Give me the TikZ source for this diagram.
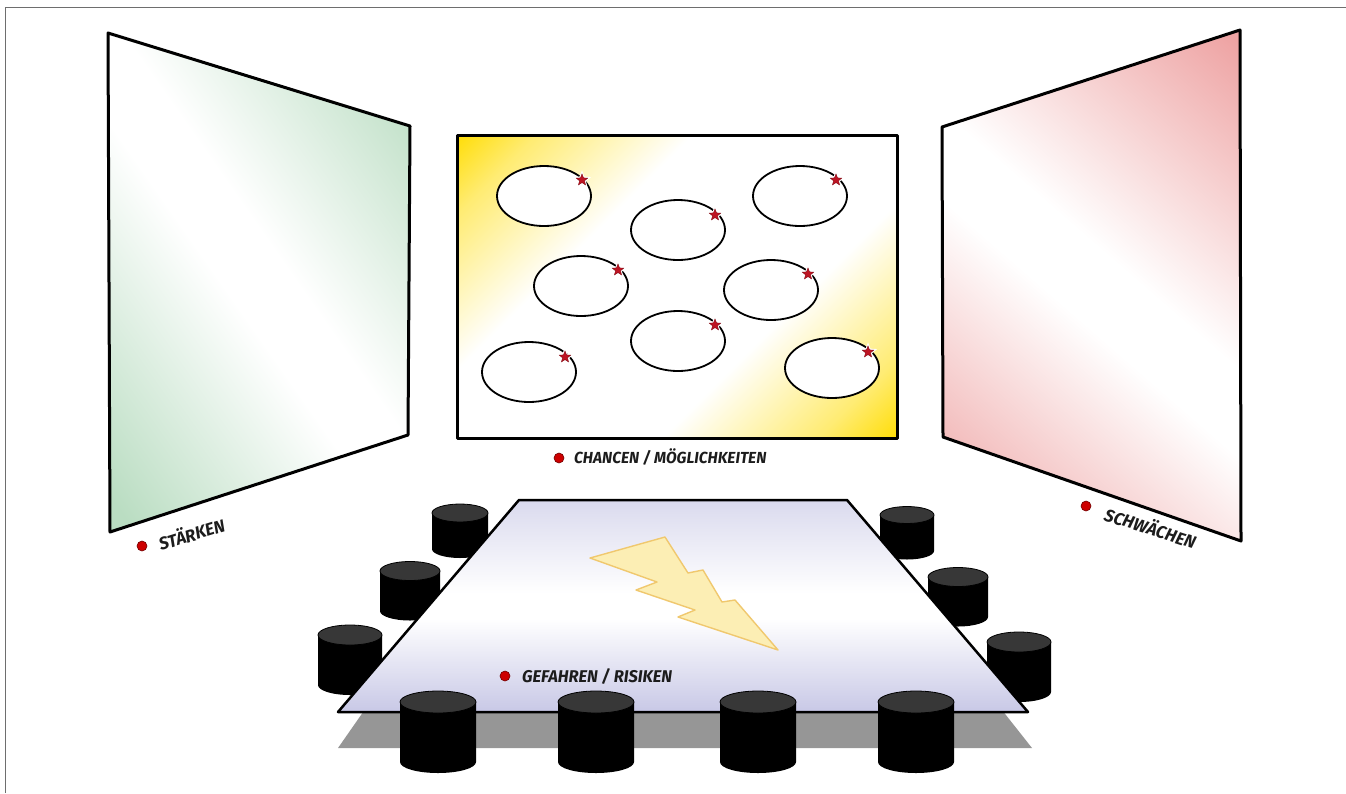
\documentclass[tikz,border=0pt]{standalone}
\usepackage{fontspec}
\newfontfamily\labfont[FakeStretch=0.97]{Fira Sans}
\usetikzlibrary{shapes.geometric}

\definecolor{panelgreen}{RGB}{186,221,194}
\definecolor{panelpink}{RGB}{238,163,163}
\definecolor{boardyellow}{RGB}{255,220,0}
\definecolor{tabletop}{RGB}{218,218,238}
\definecolor{tablebot}{RGB}{200,200,230}
\definecolor{shadowgray}{RGB}{150,150,150}
\definecolor{stooltop}{RGB}{55,55,55}
\definecolor{boltfill}{RGB}{252,238,180}
\definecolor{boltline}{RGB}{240,200,110}
\definecolor{starred}{RGB}{190,20,35}
\definecolor{dotred}{RGB}{205,0,0}
\definecolor{labtext}{RGB}{28,28,28}
\definecolor{framegray}{RGB}{110,110,110}

% wall gradients: colour at both ends, a white band across the middle
\pgfdeclareverticalshading{greenwall}{100bp}{color(0bp)=(panelgreen); color(18bp)=(panelgreen); color(46bp)=(white); color(54bp)=(white); color(82bp)=(panelgreen); color(100bp)=(panelgreen)}
\pgfdeclareverticalshading{pinkwall}{100bp}{color(0bp)=(panelpink); color(16bp)=(panelpink); color(46bp)=(white); color(54bp)=(white); color(84bp)=(panelpink); color(100bp)=(panelpink)}
\pgfdeclareverticalshading{boardshade}{100bp}{color(0bp)=(boardyellow); color(14bp)=(boardyellow); color(22bp)=(boardyellow!55!white); color(37bp)=(white); color(63bp)=(white); color(78bp)=(boardyellow!55!white); color(86bp)=(boardyellow); color(100bp)=(boardyellow)}
% table top: lavender at the far and near edges, white band in between
\pgfdeclareverticalshading{tableshade}{100bp}{color(0bp)=(tablebot); color(25bp)=(tablebot); color(47bp)=(white); color(53bp)=(white); color(75bp)=(tabletop); color(100bp)=(tabletop)}

\tikzset{
  wall/.style={draw=black, line width=3pt, line join=round},
  idea/.style={ellipse, draw=black, fill=white, line width=1.8pt,
    minimum width=94pt, minimum height=60pt, inner sep=0pt},
  starmark/.style={star, star points=5, star point ratio=2.3,
    minimum size=12pt, inner sep=0pt, fill=starred,
    draw=starred!70!black, line width=0.4pt,
    preaction={draw=white, line width=2.6pt}},
  reddot/.style={circle, minimum size=10pt, inner sep=0pt, fill=dotred,
    draw=dotred!55!black, line width=0.6pt},
  lab/.style={font=\labfont\bfseries\itshape\fontsize{16}{16}\selectfont,
    text=labtext, inner sep=0pt, anchor=base west},
  biglab/.style={lab, font=\labfont\bfseries\itshape\fontsize{17.5}{17.5}\selectfont},
  pics/stool/.style n args={3}{code={
    \fill[black] (-#1,0) -- (-#1,#3)
      arc[start angle=180, end angle=0, x radius=#1, y radius=#2]
      -- (#1,0) -- cycle;
    \filldraw[fill=stooltop, draw=black, line width=0.8pt]
      (0,0) ellipse[x radius=#1, y radius=#2];
  }},
}

\begin{document}
\begin{tikzpicture}[x=1pt, y=-1pt]
\useasboundingbox (0,0) rectangle (1346,793);

% outer frame
\draw[framegray, line width=1pt] (5,793) -- (5,7) -- (1346,7);

% left wall
\shadedraw[wall, shading=greenwall, shading angle=-55]
  (108,33) -- (410,126) -- (408,435) -- (110,532) -- cycle;
% right wall
\shadedraw[wall, shading=pinkwall, shading angle=-41]
  (942,127) -- (1240,30) -- (1241,541) -- (943,437) -- cycle;

% front board
\shadedraw[wall, shading=boardshade, shading angle=45]
  (457,135) rectangle (897,438);

% idea bubbles with star marks
\node[idea] (c1) at (544,196) {};
\node[idea] (c2) at (678,230) {};
\node[idea] (c3) at (800,196) {};
\node[idea] (c4) at (581,286) {};
\node[idea] (c5) at (771,290) {};
\node[idea] (c6) at (678,341) {};
\node[idea] (c7) at (529,372) {};
\node[idea] (c8) at (832,368) {};
\node[starmark] (s1) at (582,180) {};
\node[starmark] (s2) at (715,215) {};
\node[starmark] (s3) at (836,180) {};
\node[starmark] (s4) at (618,270) {};
\node[starmark] (s5) at (808,274) {};
\node[starmark] (s6) at (715,325) {};
\node[starmark] (s7) at (565,357) {};
\node[starmark] (s8) at (868,352) {};

% labels of the walls and the board
\node[reddot] (d1) at (559,458) {};
\node[lab] (l1) at (574,463.5) {CHANCEN / MÖGLICHKEITEN};
\node[reddot] (d2) at (142,546) {};
\node[biglab, rotate=17] (l2) at (161,551) {STÄRKEN};
\node[reddot] (d3) at (1086,506) {};
\node[biglab, rotate=-18] (l3) at (1103,520) {SCHWÄCHEN};

% shadow of the table
\fill[shadowgray] (368,705) -- (998,705) -- (1032,748) -- (338,748) -- cycle;

% stools along the sides
\pic at (460,513) {stool={28}{9}{36}};
\pic at (410,571) {stool={30}{9.5}{40}};
\pic at (350,635) {stool={32}{10}{50}};
\pic at (907,515) {stool={27}{8.5}{36}};
\pic at (958,577) {stool={30}{9.5}{40}};
\pic at (1019,642) {stool={32}{10}{50}};

% table top
\shadedraw[draw=black, line width=2.5pt, line join=round, shading=tableshade]
  (519,500) -- (847,500) -- (1028,712) -- (338,712) -- cycle;

% lightning bolt
\filldraw[fill=boltfill, draw=boltline, line width=1.4pt, line join=round]
  (590,558) -- (665,537) -- (688,573) -- (703,570) -- (722,602) -- (735,600)
  -- (778,650) -- (678,617) -- (695,610) -- (636,590) -- (657,582) -- cycle;

\node[reddot] (d4) at (505,676) {};
\node[lab, font=\labfont\bfseries\itshape\fontsize{17}{17}\selectfont]
  (l4) at (522,682.5) {GEFAHREN / RISIKEN};

% stools in front
\pic at (438,702) {stool={38}{11}{60}};
\pic at (596,702) {stool={38}{11}{60}};
\pic at (758,702) {stool={38}{11}{60}};
\pic at (916,702) {stool={38}{11}{60}};
\end{tikzpicture}
\end{document}
